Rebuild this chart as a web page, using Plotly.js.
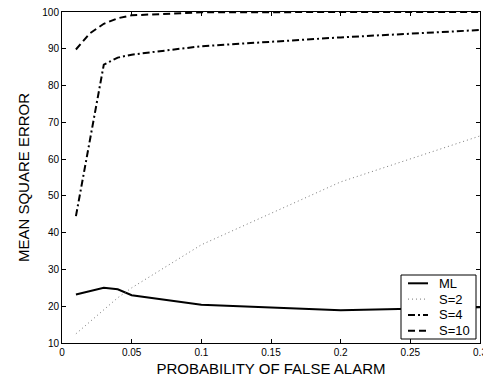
<!DOCTYPE html>
<html>
<head>
<meta charset="utf-8">
<script src="https://cdn.plot.ly/plotly-3.0.1.min.js"></script>
<style>html,body{margin:0;padding:0;background:#fff;}#chart{width:483px;height:380px;}</style>
</head>
<body>
<div id="chart"></div>
<script>
var pfa = [0.01, 0.02, 0.03, 0.04, 0.05, 0.1, 0.2, 0.3];
var mseML = [23.2, 24.1, 25.0, 24.6, 23.0, 20.4, 18.9, 19.7];
var mseS2 = [12.5, 15.8, 19.2, 22.3, 25.0, 36.7, 53.8, 66.3];
var mseS4 = [44.5, 65.0, 85.7, 87.6, 88.4, 90.7, 93.1, 95.1];
var mseS10 = [89.8, 94.2, 96.8, 98.3, 99.1, 99.9, 100, 100];
var seriesNames = ['ML', 'S=2', 'S=4', 'S=10'];
var xTicks = [0, 0.05, 0.1, 0.15, 0.2, 0.25, 0.3];
var yTicks = [10, 20, 30, 40, 50, 60, 70, 80, 90, 100];

var font = 'Liberation Sans, Arial, Helvetica, sans-serif';
var W = 483, H = 380, M = {l: 62, r: 3, t: 12, b: 37};
var styles = [
  {color: '#000', width: 2, dash: 'solid'},
  {color: '#777', width: 1, dash: '1px,3px'},
  {color: '#000', width: 2, dash: '7px,3px,2px,3px'},
  {color: '#000', width: 2, dash: '7px,4px'}
];
var ys = [mseML, mseS2, mseS4, mseS10];
var traces = ys.map(function (y, i) {
  return {x: pfa, y: y, name: seriesNames[i], mode: 'lines', line: styles[i], showlegend: false};
});

// legend box drawn in paper coordinates (MATLAB-style compact legend)
var pw = W - M.l - M.r, ph = H - M.t - M.b;
function px(x) { return (x - M.l) / pw; }
function py(y) { return (H - M.b - y) / ph; }
var shapes = [{type: 'rect', xref: 'paper', yref: 'paper', x0: px(401), x1: px(476), y0: py(339), y1: py(275),
  line: {color: '#000', width: 1}, fillcolor: '#fff', layer: 'above'}];
var annotations = [];
seriesNames.forEach(function (n, i) {
  var yc = 283.3 + i * 15.8;
  shapes.push({type: 'line', xref: 'paper', yref: 'paper', x0: px(408), x1: px(428), y0: py(yc), y1: py(yc),
    line: styles[i], layer: 'above'});
  annotations.push({xref: 'paper', yref: 'paper', x: px(437), y: py(yc), xanchor: 'left', yanchor: 'middle',
    text: n, showarrow: false, font: {family: font, size: 13, color: '#000'}});
});

var layout = {
  width: W, height: H,
  margin: M,
  paper_bgcolor: '#fff', plot_bgcolor: '#fff',
  font: {family: font, size: 10, color: '#000'},
  showlegend: false,
  shapes: shapes, annotations: annotations,
  xaxis: {
    range: [0, 0.3], tickvals: xTicks, ticktext: xTicks.map(String),
    ticks: 'inside', ticklen: 4, tickcolor: '#000', showline: true, linecolor: '#000', linewidth: 1,
    mirror: 'ticks', showgrid: false, zeroline: false, automargin: false, ticklabeloverflow: 'allow',
    tickfont: {family: font, size: 10, color: '#000'},
    title: {text: 'PROBABILITY OF FALSE ALARM', font: {family: font, size: 15, color: '#000'}, standoff: 6}
  },
  yaxis: {
    range: [10, 100], tickvals: yTicks, ticktext: yTicks.map(String),
    ticks: 'inside', ticklen: 4, tickcolor: '#000', showline: true, linecolor: '#000', linewidth: 1,
    mirror: 'ticks', showgrid: false, zeroline: false, automargin: false, ticklabeloverflow: 'allow',
    tickfont: {family: font, size: 10, color: '#000'},
    title: {text: 'MEAN SQUARE ERROR', font: {family: font, size: 15, color: '#000'}, standoff: 9}
  }
};
Plotly.newPlot('chart', traces, layout, {displayModeBar: false, staticPlot: true});
</script>
</body>
</html>
